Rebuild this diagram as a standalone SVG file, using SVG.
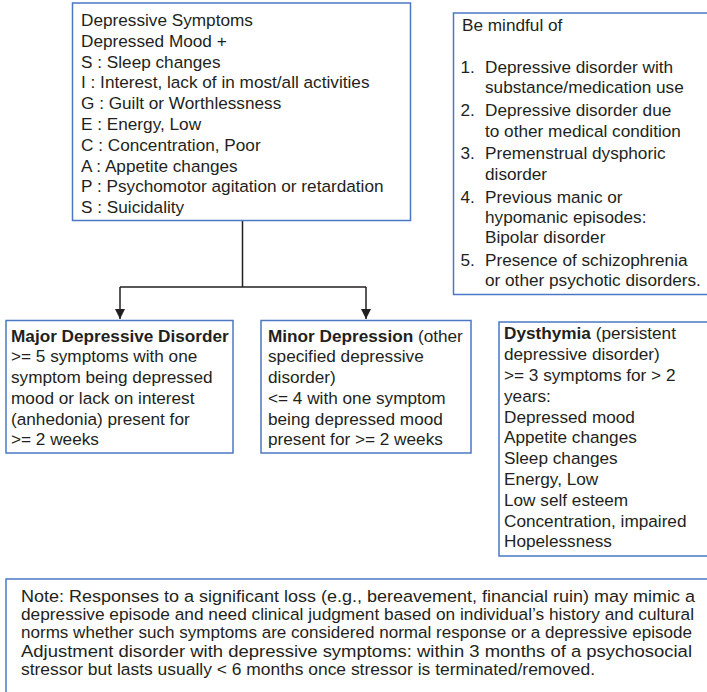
<svg xmlns="http://www.w3.org/2000/svg" width="707" height="692" viewBox="0 0 707 692">
<style>
.box{fill:#fff;stroke:#4a78c2;stroke-width:1.5}
text{font-family:"Liberation Sans",Arial,sans-serif;font-size:17.2px;fill:#231f20}
.b{font-weight:bold}
.conn{fill:none;stroke:#231f20;stroke-width:1.5}
</style>
<defs>
<marker id="ah" viewBox="0 0 10 10" refX="10" refY="5" markerWidth="10" markerHeight="10" markerUnits="userSpaceOnUse" orient="auto">
<path d="M0,0 L10,5 L0,10 Z" fill="#231f20"/>
</marker>
</defs>
<rect width="707" height="692" fill="#fff"/>
<g id="connectors">
<path class="conn" d="M242.5,221 V287"/>
<path class="conn" d="M120,287 H366"/>
<path class="conn" d="M120,287 V319" marker-end="url(#ah)"/>
<path class="conn" d="M366,287 V319" marker-end="url(#ah)"/>
</g>
<g id="symptoms">
<rect class="box" x="72.5" y="3" width="338" height="217.5"/>
<text x="81" y="26">Depressive Symptoms</text>
<text x="81" y="46.8">Depressed Mood +</text>
<text x="81" y="67.6">S : Sleep changes</text>
<text x="81" y="88.4">I : Interest, lack of in most/all activities</text>
<text x="81" y="109.2">G : Guilt or Worthlessness</text>
<text x="81" y="130">E : Energy, Low</text>
<text x="81" y="150.8">C : Concentration, Poor</text>
<text x="81" y="171.6">A : Appetite changes</text>
<text x="81" y="192.4">P : Psychomotor agitation or retardation</text>
<text x="81" y="213.2">S : Suicidality</text>
</g>
<g id="mindful">
<rect class="box" x="453.5" y="13" width="260" height="281.5"/>
<text x="462" y="30.5">Be mindful of</text>
<text x="460.5" y="72.5">1.</text>
<text x="485" y="72.5">Depressive disorder with</text>
<text x="485" y="92.8">substance/medication use</text>
<text x="460.5" y="116.2">2.</text>
<text x="485" y="116.2">Depressive disorder due</text>
<text x="485" y="136.6">to other medical condition</text>
<text x="460.5" y="159.4">3.</text>
<text x="485" y="159.4">Premenstrual dysphoric</text>
<text x="485" y="179.8">disorder</text>
<text x="460.5" y="202.6">4.</text>
<text x="485" y="202.6">Previous manic or</text>
<text x="485" y="223">hypomanic episodes:</text>
<text x="485" y="243.4">Bipolar disorder</text>
<text x="460.5" y="266">5.</text>
<text x="485" y="266">Presence of schizophrenia</text>
<text x="485" y="286.3">or other psychotic disorders.</text>
</g>
<g id="mdd">
<rect class="box" x="6" y="320.5" width="227" height="132.5"/>
<text x="11" y="341.7" class="b">Major Depressive Disorder</text>
<text x="11" y="362.4">&gt;= 5 symptoms with one</text>
<text x="11" y="383.1">symptom being depressed</text>
<text x="11" y="403.8">mood or lack on interest</text>
<text x="11" y="424.5">(anhedonia) present for</text>
<text x="11" y="445.2">&gt;= 2 weeks</text>
</g>
<g id="minor">
<rect class="box" x="261" y="320.5" width="210" height="132.5"/>
<text x="268" y="341.7"><tspan class="b">Minor Depression</tspan> (other</text>
<text x="268" y="362.4">specified depressive</text>
<text x="268" y="383.1">disorder)</text>
<text x="268" y="403.8">&lt;= 4 with one symptom</text>
<text x="268" y="424.5">being depressed mood</text>
<text x="268" y="445.2">present for &gt;= 2 weeks</text>
</g>
<g id="dysthymia">
<rect class="box" x="499" y="322" width="215" height="234"/>
<text x="504" y="339.3"><tspan class="b">Dysthymia</tspan> (persistent</text>
<text x="504" y="360.1">depressive disorder)</text>
<text x="504" y="380.9">&gt;= 3 symptoms for &gt; 2</text>
<text x="504" y="401.7">years:</text>
<text x="504" y="422.5">Depressed mood</text>
<text x="504" y="443.3">Appetite changes</text>
<text x="504" y="464.1">Sleep changes</text>
<text x="504" y="484.9">Energy, Low</text>
<text x="504" y="505.7">Low self esteem</text>
<text x="504" y="526.5">Concentration, impaired</text>
<text x="504" y="547.3">Hopelessness</text>
</g>
<g id="note">
<rect class="box" x="6" y="579" width="710" height="120"/>
<text x="21" y="601.7" textLength="674" lengthAdjust="spacingAndGlyphs">Note: Responses to a significant loss (e.g., bereavement, financial ruin) may mimic a</text>
<text x="21" y="620" textLength="673" lengthAdjust="spacingAndGlyphs">depressive episode and need clinical judgment based on individual’s history and cultural</text>
<text x="21" y="638.3" textLength="671" lengthAdjust="spacingAndGlyphs">norms whether such symptoms are considered normal response or a depressive episode</text>
<text x="21" y="656.7" textLength="671" lengthAdjust="spacingAndGlyphs">Adjustment disorder with depressive symptoms: within 3 months of a psychosocial</text>
<text x="21" y="675" textLength="574" lengthAdjust="spacingAndGlyphs">stressor but lasts usually &lt; 6 months once stressor is terminated/removed.</text>
</g>
</svg>
